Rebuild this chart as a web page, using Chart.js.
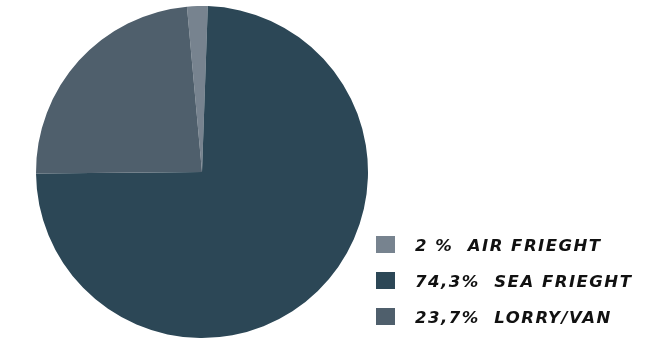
<!DOCTYPE html>
<html>
<head>
<meta charset="utf-8">
<script src="https://cdn.jsdelivr.net/npm/chart.js"></script>
<style>
    body { margin: 0; background: #fff; }
    #wrap { position: relative; width: 670px; height: 340px; }
    #legenda { position: absolute; left: 376px; top: 236px; font-family: "DejaVu Sans", sans-serif; }
    .item { height: 36px; display: flex; align-items: flex-start; }
    .caixa { width: 19px; height: 17px; margin-right: 20px; }
    .texto { font-weight: bold; font-style: italic; font-size: 16.5px; letter-spacing: 1.5px; white-space: pre; color: #111; line-height: 17px; margin-top: 1px; }
</style>
</head>
<body>
<div id="wrap">
    <canvas id="grafico" width="670" height="340"></canvas>
    <div id="legenda"></div>
</div>
<script>
const categorias = ['AIR FRIEGHT', 'SEA FRIEGHT', 'LORRY/VAN'];
const valores = [2, 74.3, 23.7];
const rotulos = ['2 %  AIR FRIEGHT', '74,3%  SEA FRIEGHT', '23,7%  LORRY/VAN'];
const cores = ['#77838f', '#2c4756', '#4f5f6c'];

let legenda = document.getElementById('legenda');
for (let i = 0; i < rotulos.length; i++) {
    let item = document.createElement('div');
    item.className = 'item';
    item.innerHTML = '<div class="caixa" style="background:' + cores[i] + '"></div><div class="texto">' + rotulos[i] + '</div>';
    legenda.appendChild(item);
}

const context = document.getElementById('grafico').getContext('2d');
let chartInstance = new Chart(context, {
    type: 'pie',
    data: {
        labels: categorias,
        datasets: [{
            data: valores,
            backgroundColor: cores,
            borderWidth: 0,
        }],
    },
    options: {
        responsive: false,
        animation: false,
        rotation: -5.2,
        layout: { padding: { left: 36, right: 302, top: 6, bottom: 2 } },
        plugins: {
            legend: { display: false },
            tooltip: { enabled: false },
        },
    },
});
</script>
</body>
</html>
